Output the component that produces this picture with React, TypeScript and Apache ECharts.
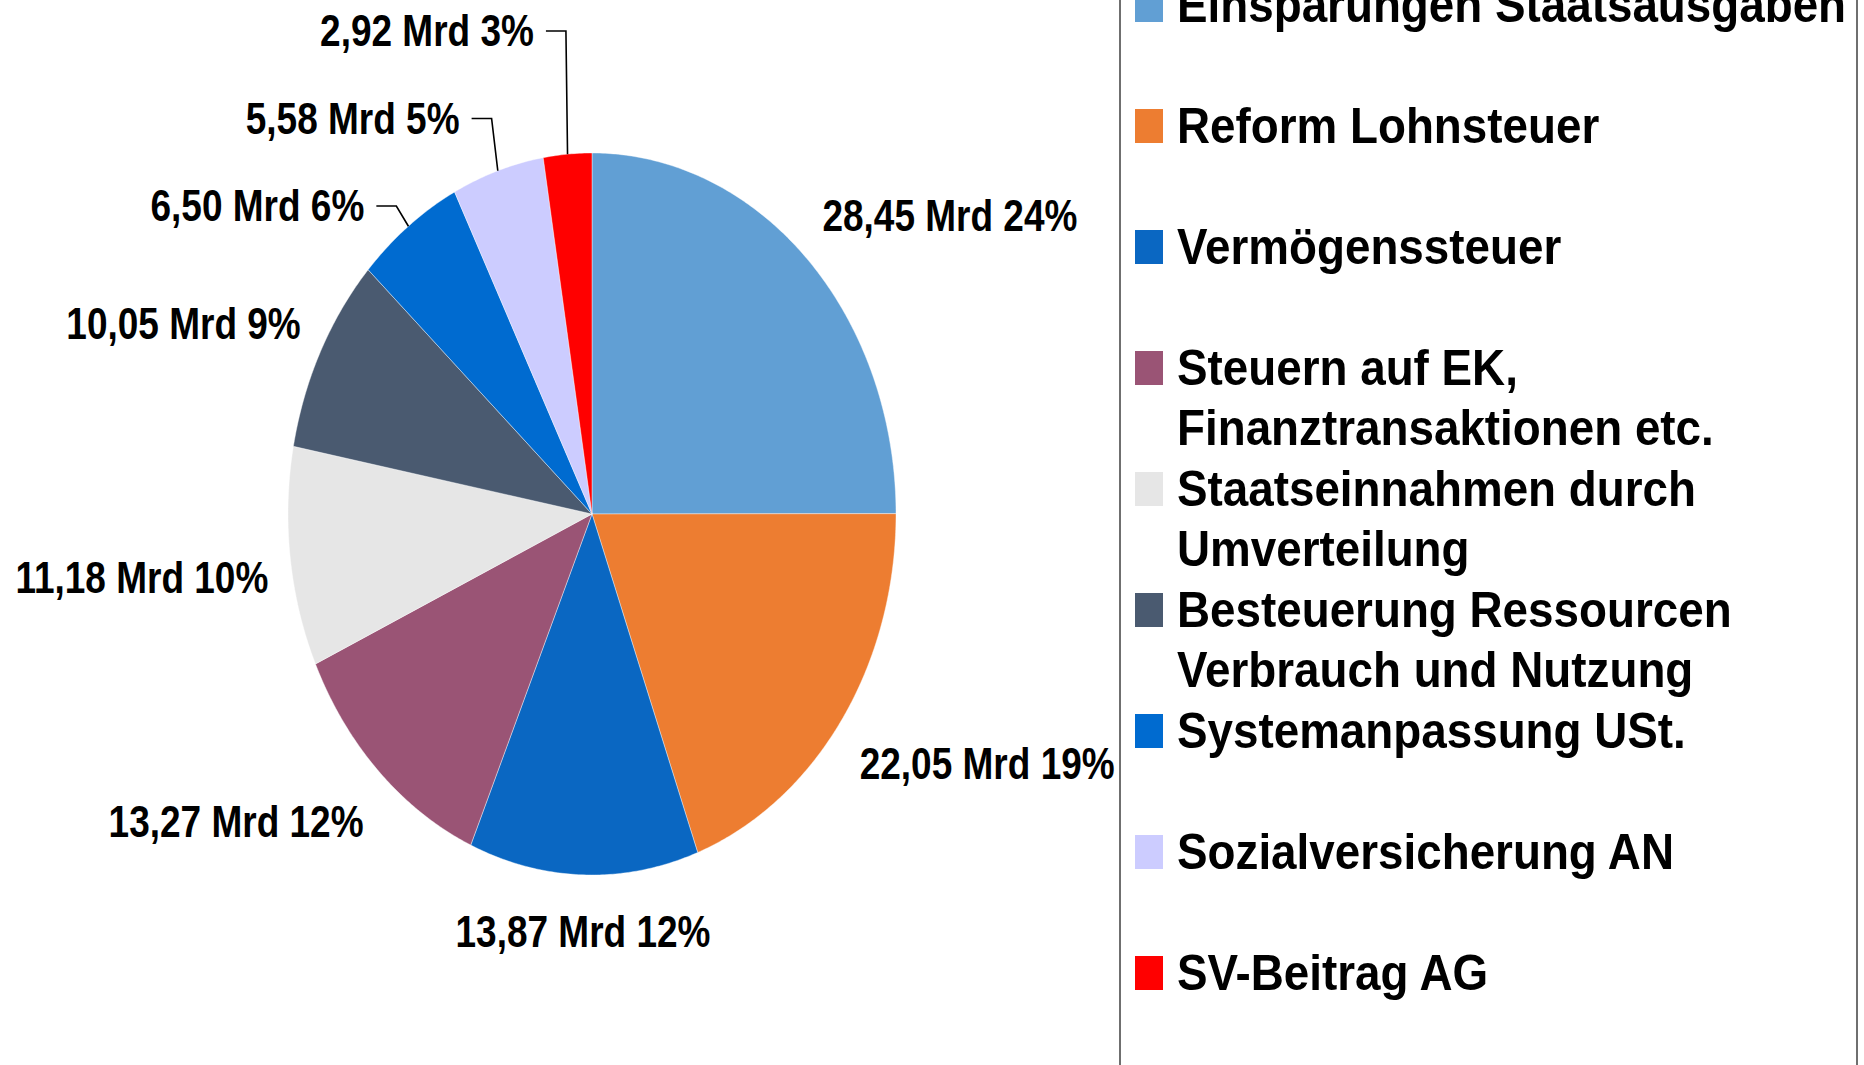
import React, { useEffect, useRef } from 'react';
import * as echarts from 'echarts';

// ---------- data ----------
const categories = [
  'Einsparungen Staatsausgaben',
  'Reform Lohnsteuer',
  'Vermögenssteuer',
  'Steuern auf EK,\nFinanztransaktionen etc.',
  'Staatseinnahmen durch\nUmverteilung',
  'Besteuerung Ressourcen\nVerbrauch und Nutzung',
  'Systemanpassung USt.',
  'Sozialversicherung AN',
  'SV-Beitrag AG',
];
const valuesMrd = [28.45, 22.05, 13.87, 13.27, 11.18, 10.05, 6.5, 5.58, 2.92];
const percentLabels = [24, 19, 12, 12, 10, 9, 6, 5, 3];
const colors = ['#619FD4', '#ED7D31', '#0A67C2', '#9A5475', '#E6E6E6', '#4A5A70', '#006BD0', '#CCCCFF', '#FF0000'];

// ---------- layout ----------
const CX = 592;
const CY = 514;
const RX = 304;
const RY = 361;
const LABEL_FONT = 'bold 37px "Liberation Sans", Arial, sans-serif';
const LABEL_SCALE_Y = 1.2;
const LEGEND_FONT = 'bold 45.8px "Liberation Sans", Arial, sans-serif';
const LEGEND_SCALE_Y = 1.1;
const LEADER_THRESHOLD = 0.07;

const total = valuesMrd.reduce((a, b) => a + b, 0);
const cumStart: number[] = [];
valuesMrd.reduce((acc, v, i) => {
  cumStart[i] = acc;
  return acc + v;
}, 0);

const fmt = (v: number, p: number) => v.toFixed(2).replace('.', ',') + ' Mrd ' + p + '%';

function renderSlice(params: any, api: any) {
  const i = params.dataIndex;
  const v = api.value(0);
  const a0 = (cumStart[i] / total) * Math.PI * 2;
  const a1 = a0 + (v / total) * Math.PI * 2;
  const pts: number[][] = [[CX, CY]];
  const steps = Math.max(4, Math.ceil(((a1 - a0) * 180) / Math.PI / 0.5));
  for (let k = 0; k <= steps; k++) {
    const a = a0 + ((a1 - a0) * k) / steps;
    pts.push([CX + RX * Math.sin(a), CY - RY * Math.cos(a)]);
  }
  const children: any[] = [
    {
      type: 'polygon',
      shape: { points: pts },
      style: { fill: colors[i], stroke: 'rgba(255,255,255,0.5)', lineWidth: 0.8 },
    },
  ];
  const mid = (a0 + a1) / 2;
  const s = Math.sin(mid);
  const c = Math.cos(mid);
  const text = fmt(v, percentLabels[i]);
  const frac = v / total;
  if (frac >= LEADER_THRESHOLD) {
    const px = CX + (RX + 22) * s;
    const align = s > 0.3 ? 'left' : s < -0.3 ? 'right' : 'center';
    const cyText = CY - 418 * c + (c < 0 ? 14 * Math.abs(s) : -3 * Math.abs(s));
    children.push({
      type: 'text',
      x: px,
      y: cyText,
      scaleY: LABEL_SCALE_Y,
      style: {
        text,
        font: LABEL_FONT,
        fill: '#000',
        align,
        verticalAlign: 'middle',
        textAlign: align,
        textVerticalAlign: 'middle',
      },
    });
  } else {
    // small slices: stacked labels with leader lines
    let k = 0;
    for (let j = valuesMrd.length - 1; j > i; j--) {
      if (valuesMrd[j] / total < LEADER_THRESHOLD) k++;
    }
    const ex = CX + RX * s;
    const ey = CY - RY * c;
    const ly = CY - RY - 122 + 87.5 * k;
    const elbowX = ex + 20 * s;
    children.push({
      type: 'polyline',
      shape: { points: [[ex, ey], [elbowX, ly], [elbowX - 20, ly]] },
      style: { stroke: '#000', lineWidth: 1.6, fill: 'none' },
    });
    children.push({
      type: 'text',
      x: elbowX - 32,
      y: ly,
      scaleY: LABEL_SCALE_Y,
      style: {
        text,
        font: LABEL_FONT,
        fill: '#000',
        align: 'right',
        verticalAlign: 'middle',
        textAlign: 'right',
        textVerticalAlign: 'middle',
      },
    });
  }
  return { type: 'group', children };
}

function buildLegend() {
  const els: any[] = [
    {
      type: 'rect',
      shape: { x: 1120, y: -20, width: 737, height: 1110 },
      style: { fill: 'none', stroke: '#6f6f6f', lineWidth: 2 },
    },
  ];
  categories.forEach((name, i) => {
    const top = -12 + 121 * i;
    els.push({
      type: 'rect',
      shape: { x: 1135, y: top, width: 28, height: 34 },
      style: { fill: colors[i] },
    });
    name.split('\n').forEach((line, j) => {
      els.push({
        type: 'text',
        x: 1177,
        y: top + 16 + j * 60.6,
        scaleY: LEGEND_SCALE_Y,
        style: {
          text: line,
          font: LEGEND_FONT,
          fill: '#000',
          align: 'left',
          verticalAlign: 'middle',
          textAlign: 'left',
          textVerticalAlign: 'middle',
        },
      });
    });
  });
  return els;
}

export default function App() {
  const ref = useRef<HTMLDivElement>(null);
  useEffect(() => {
    if (!ref.current) return;
    const chart = echarts.init(ref.current, null, { renderer: 'svg' });
    chart.setOption({
      animation: false,
      backgroundColor: '#fff',
      graphic: { elements: buildLegend() },
      series: [
        {
          type: 'custom',
          coordinateSystem: 'none',
          renderItem: renderSlice,
          data: valuesMrd.map((v, i) => ({ name: categories[i].replace('\n', ' '), value: [v] })),
        },
      ],
    });
    return () => chart.dispose();
  }, []);
  return (
    <div
      ref={ref}
      style={{ position: 'absolute', left: 0, top: 0, width: '1864px', height: '1065px' }}
    />
  );
}
